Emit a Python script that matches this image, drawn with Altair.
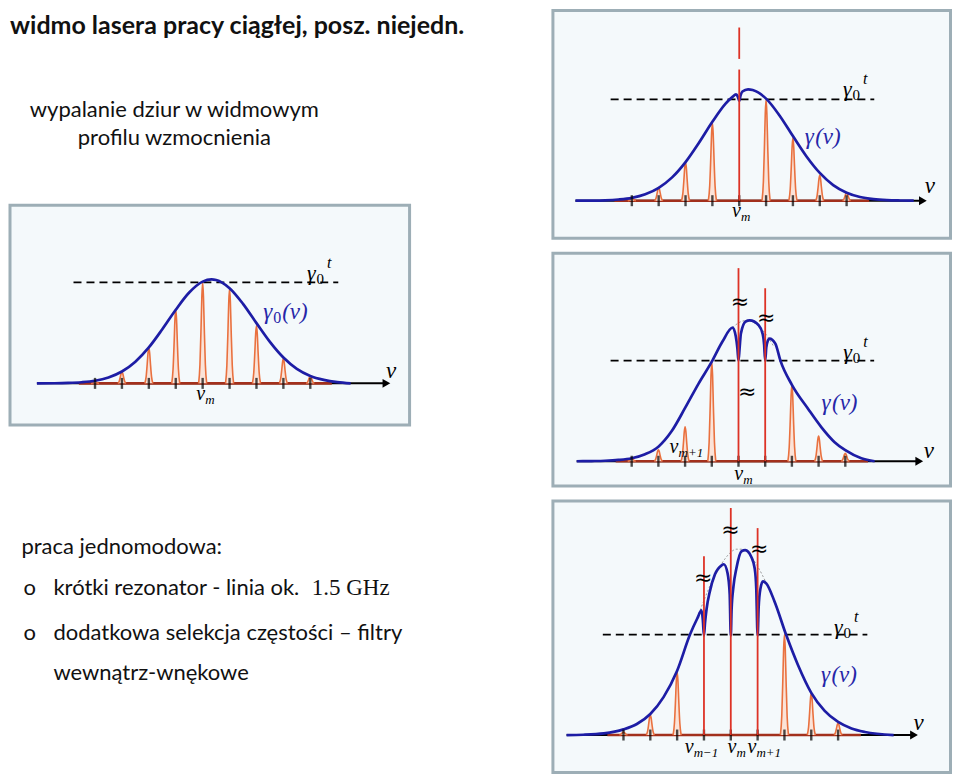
import altair as alt
import pandas as pd

# ---------------- values ----------------
# frequency in units of the mode spacing (nu_m = 0), gain in units of the threshold gamma_0^t
MODES = [-4, -3, -2, -1, 0, 1, 2, 3, 4]

# panel A: unsaturated profile gamma_0(nu)
A_CURVE_X = [-6.16, -5.5, -5.0, -4.5, -4.0, -3.5, -3.0, -2.5, -2.0, -1.5, -1.0, -0.5, 0.0, 0.33, 0.5,
             1.0, 1.5, 2.0, 2.5, 3.0, 3.5, 4.0, 4.5, 5.0, 5.5]
A_CURVE_Y = [0.0, 0.001, 0.004, 0.011, 0.026, 0.059, 0.118, 0.215, 0.356, 0.536, 0.729, 0.900, 1.008, 1.030, 1.024,
             0.943, 0.788, 0.597, 0.411, 0.256, 0.144, 0.074, 0.035, 0.012, 0.0]
A_PEAK_X = [-4, -3, -2, -1, 0, 1, 2, 3, 4]
A_PEAK_H = [0.02, 0.115, 0.353, 0.735, 1.0, 0.94, 0.57, 0.245, 0.07]

# panel B: one hole at nu_m
B_CURVE_X = [-6.1, -5.5, -5.0, -4.5, -4.0, -3.5, -3.0, -2.5, -2.0, -1.5, -1.0, -0.5, -0.25, -0.12, -0.05, 0.0,
             0.05, 0.12, 0.33, 0.5, 1.0, 1.5, 2.0, 2.5, 3.0, 3.5, 4.0, 4.5, 5.0, 5.5, 6.0, 6.5]
B_CURVE_Y = [0.0, 0.001, 0.004, 0.012, 0.028, 0.063, 0.127, 0.230, 0.381, 0.572, 0.779, 0.961, 1.025, 1.050, 1.025, 0.985,
             1.040, 1.078, 1.100, 1.093, 1.008, 0.842, 0.638, 0.439, 0.274, 0.154, 0.079, 0.037, 0.016, 0.006, 0.002, 0.0]
B_PEAK_X = [-4, -3, -2, -1, 1, 2, 3, 4]
B_PEAK_H = [0.03, 0.13, 0.38, 0.77, 1.0, 0.62, 0.25, 0.08]
B_LASER_X = [0, 0]
B_LASER_LO = [0.0, 1.40]
B_LASER_HI = [1.295, 1.71]

# panel C: two holes
C_CURVE_X = [-6.06, -5.5, -5.0, -4.5, -4.0, -3.5, -3.0, -2.5, -2.0, -1.5, -1.0, -0.6, -0.22, -0.1, -0.04, 0.0,
             0.04, 0.09, 0.27, 0.42, 0.76, 0.91, 0.96, 1.0, 1.04, 1.1, 1.16, 1.38, 1.57, 2.0, 2.61, 3.1, 3.6,
             4.0, 4.6, 5.1]
C_CURVE_Y = [0.0, 0.002, 0.005, 0.013, 0.03, 0.07, 0.145, 0.30, 0.53, 0.77, 0.99, 1.19, 1.33, 1.24, 1.12, 1.0,
             1.12, 1.27, 1.39, 1.40, 1.35, 1.26, 1.16, 1.0, 1.13, 1.20, 1.22, 1.17, 1.0, 0.76, 0.52, 0.34, 0.19,
             0.11, 0.03, 0.0]
C_PEAK_X = [-4, -3, -2, -1, 2, 3, 4]
C_PEAK_H = [0.03, 0.115, 0.343, 0.99, 0.76, 0.25, 0.08]
C_LASER_X = [0, 1]
C_LASER_LO = [0.0, 0.0]
C_LASER_HI = [1.92, 1.72]
C_REF_X = [-0.5, -0.3, -0.1, 0.1, 0.3, 0.5, 0.7, 0.9, 1.1, 1.3]
C_REF_Y = [1.235, 1.305, 1.357, 1.389, 1.40, 1.389, 1.357, 1.305, 1.235, 1.15]
C_BREAK_X = [0.05, 1.04, 0.33]
C_BREAK_Y = [1.58, 1.42, 0.69]

# panel D: three holes
D_CURVE_X = [-6.12, -5.5, -4.73, -4.0, -3.5, -3.0, -2.5, -2.0, -1.52, -1.25, -1.09, -1.04, -1.0, -0.96, -0.9,
             -0.78, -0.59, -0.34, -0.26, -0.12, -0.04, 0.0, 0.03, 0.1, 0.21, 0.4, 0.54, 0.77, 0.89, 0.95, 1.0,
             1.04, 1.1, 1.2, 1.32, 1.63, 2.06, 2.5, 3.0, 3.5, 4.0, 4.5, 5.0, 6.07]
D_CURVE_Y = [0.0, 0.003, 0.016, 0.056, 0.11, 0.21, 0.38, 0.64, 1.0, 1.16, 1.24, 1.14, 0.99, 1.12, 1.26,
             1.43, 1.60, 1.69, 1.70, 1.61, 1.40, 0.99, 1.25, 1.48, 1.66, 1.83, 1.84, 1.77, 1.66, 1.46, 0.99,
             1.28, 1.45, 1.53, 1.51, 1.33, 1.0, 0.70, 0.42, 0.24, 0.13, 0.065, 0.03, 0.0]
D_PEAK_X = [-4, -3, -2, 2, 3, 4]
D_PEAK_H = [0.03, 0.2, 0.63, 1.0, 0.42, 0.12]
D_LASER_X = [-1, 0, 1]
D_LASER_LO = [0.0, 0.0, 0.0]
D_LASER_HI = [1.78, 2.26, 2.06]
D_REF_X = [-1.3, -1.0, -0.8, -0.6, -0.4, -0.2, 0.0, 0.2, 0.4, 0.6, 0.8, 1.0, 1.2, 1.4]
D_REF_Y = [1.13, 1.34, 1.47, 1.58, 1.68, 1.76, 1.82, 1.85, 1.85, 1.82, 1.76, 1.68, 1.58, 1.47]
D_BREAK_X = [-1.03, -0.01, 1.06]
D_BREAK_Y = [1.56, 2.04, 1.85]

TITLE = "widmo lasera pracy ciągłej, posz. niejedn."
SUBTITLE = ["wypalanie dziur w widmowym", "profilu wzmocnienia"]
HEAD = "praca jednomodowa:"
BULLET1 = "krótki rezonator - linia ok."
BULLET1_MATH = "1.5 GHz"
BULLET2 = "dodatkowa selekcja częstości – filtry"
BULLET2_CONT = "wewnątrz-wnękowe"

# ---------------- styling ----------------
PANEL_BG = "#F4F9FB"
PANEL_EDGE = "#9DAEB6"
CURVE_BLUE = "#1D1DA5"
LABEL_BLUE = "#2626A8"
LASER_RED = "#DD3326"
PEAK_ORANGE = "#E9713F"
PEAK_FILL = "#FBE3D8"
BASE_RED = "#A2301C"
MATH = "Liberation Serif"
SANS = "Lato"
ONE = pd.DataFrame({"k": [0]})

PEAK_DX = [-0.15, -0.1, -0.06, -0.03, 0.0, 0.03, 0.06, 0.1, 0.15]
PEAK_F = [0.0, 0.19, 0.55, 0.86, 1.0, 0.86, 0.55, 0.19, 0.0]


def piece(t, x, y, dx=0, dy=0, size=22, style="italic", color="black", align="left"):
    return dict(t=t, x=x, y=y, dx=dx, dy=dy, size=size, style=style, color=color, align=align)


def gamma_t(x, y):
    return [piece("γ", x, y), piece("0", x, y, dx=9.5, dy=4, size=15, style="normal"),
            piece("t", x, y, dx=20, dy=-12, size=16)]


def gamma_nu(x, y, zero=False):
    out = [piece("γ", x, y, size=23, color=LABEL_BLUE)]
    if zero:
        out.append(piece("0", x, y, dx=10, dy=4, size=16, style="normal", color=LABEL_BLUE))
    out.append(piece("(ν)", x, y, dx=19 if zero else 10.5, size=23, color=LABEL_BLUE))
    return out


def nu_sub(x, y, sub):
    return [piece("ν", x, y, size=20), piece(sub, x, y, dx=9, dy=4, size=13)]


def nu_axis(x, y):
    return [piece("ν", x, y, size=23, align="center")]


def make_panel(p):
    xs = alt.Scale(domain=p["xdom"], nice=False, zero=False)
    ys = alt.Scale(domain=p["ydom"], nice=False, zero=False)

    def X(f):
        return alt.X(f, type="quantitative", scale=xs, axis=None)

    def Y(f, **kw):
        return alt.Y(f, type="quantitative", scale=ys, axis=None, **kw)

    def XD(v):
        return alt.XDatum(v, type="quantitative", scale=xs)

    def YD(v):
        return alt.YDatum(v, type="quantitative", scale=ys)

    layers = []
    layers.append(alt.Chart(ONE).mark_rule(color="black", strokeWidth=1.7, strokeDash=[8, 5]).encode(
        x=XD(p["dash"][0]), x2=alt.datum(p["dash"][1]), y=YD(1.0)))
    if p.get("ref_x"):
        rdf = pd.DataFrame({"x": p["ref_x"], "y": p["ref_y"]})
        layers.append(alt.Chart(rdf).mark_line(color="#8f8f8f", strokeWidth=0.9, strokeDash=[2, 2],
                                               interpolate="monotone").encode(x=X("x"), y=Y("y")))
    layers.append(alt.Chart(ONE).mark_rule(color="black", strokeWidth=2).encode(
        x=XD(p["axis"][0]), x2=alt.datum(p["axis"][1] - 0.2), y=YD(0)))
    layers.append(alt.Chart(ONE).mark_rule(color=BASE_RED, strokeWidth=2.6).encode(
        x=XD(p["base"][0]), x2=alt.datum(p["base"][1]), y=YD(0)))

    rows = []
    for m, h in zip(p["peak_x"], p["peak_h"]):
        for dx, f in zip(PEAK_DX, PEAK_F):
            rows.append({"m": m, "x": m + dx, "y": h * f})
    pk = pd.DataFrame(rows)
    layers.append(alt.Chart(pk).mark_area(color=PEAK_FILL, interpolate="monotone").encode(
        x=X("x"), y=Y("y", stack=None), detail="m:N"))
    layers.append(alt.Chart(pk).mark_line(color=PEAK_ORANGE, strokeWidth=1.6, interpolate="monotone").encode(
        x=X("x"), y=Y("y"), detail="m:N"))

    cv = pd.DataFrame({"x": p["curve_x"], "y": p["curve_y"]})
    layers.append(alt.Chart(cv).mark_line(color=CURVE_BLUE, strokeWidth=2.7, interpolate="monotone").encode(
        x=X("x"), y=Y("y")))

    tk = pd.DataFrame({"x": MODES})
    layers.append(alt.Chart(tk).mark_tick(orient="vertical", color="black", size=11, thickness=2.4).encode(
        x=X("x"), y=YD(0)))

    if p.get("laser_x"):
        ls = pd.DataFrame({"x": p["laser_x"], "lo": p["laser_lo"], "hi": p["laser_hi"]})
        layers.append(alt.Chart(ls).mark_rule(color=LASER_RED, strokeWidth=1.8).encode(
            x=X("x"), y=Y("lo"), y2="hi"))

    if p.get("break_x"):
        bk = pd.DataFrame({"x": p["break_x"], "y": p["break_y"]})
        layers.append(alt.Chart(bk).mark_text(text="≈", font="DejaVu Sans", fontSize=22, color="black",
                                              baseline="middle", align="center").encode(x=X("x"), y=Y("y")))

    for lb in p["labels"]:
        layers.append(alt.Chart(ONE).mark_text(
            text=lb["t"], dx=lb["dx"], dy=lb["dy"], fontSize=lb["size"], fontStyle=lb["style"], font=MATH,
            color=lb["color"], align=lb["align"], baseline="alphabetic").encode(x=XD(lb["x"]), y=YD(lb["y"])))

    layers.append(alt.Chart(ONE).mark_point(shape="triangle-right", filled=True, size=80, color="black",
                                            opacity=1).encode(x=XD(p["axis"][1] - 0.17), y=YD(0)))

    return alt.layer(*layers).properties(
        width=p["w"], height=p["h"],
        view=alt.ViewBackground(fill=PANEL_BG, stroke=PANEL_EDGE, strokeWidth=3))


panel_a = make_panel(dict(
    xdom=[-7.16, 7.69], ydom=[-0.412, 1.765], w=400, h=220,
    axis=[-6.16, 7.0], base=[-4.6, 4.8], dash=[-4.8, 5.04],
    curve_x=A_CURVE_X, curve_y=A_CURVE_Y, peak_x=A_PEAK_X, peak_h=A_PEAK_H,
    labels=gamma_t(3.88, 1.02) + gamma_nu(2.25, 0.64, zero=True) + nu_axis(7.0, 0.05)
    + nu_sub(-0.24, -0.167, "m")))

panel_b = make_panel(dict(
    xdom=[-6.94, 7.87], ydom=[-0.370, 1.879], w=398, h=228,
    axis=[-6.1, 7.01], base=[-4.65, 4.84], dash=[-4.79, 5.03],
    curve_x=B_CURVE_X, curve_y=B_CURVE_Y, peak_x=B_PEAK_X, peak_h=B_PEAK_H,
    laser_x=B_LASER_X, laser_lo=B_LASER_LO, laser_hi=B_LASER_HI,
    labels=gamma_t(3.87, 1.03) + gamma_nu(2.44, 0.555) + nu_axis(7.1, 0.08) + nu_sub(-0.27, -0.165, "m")))

panel_c = make_panel(dict(
    xdom=[-6.95, 7.94], ydom=[-0.245, 2.069], w=398, h=233,
    axis=[-6.06, 6.94], base=[-4.6, 4.85], dash=[-4.79, 5.08],
    curve_x=C_CURVE_X, curve_y=C_CURVE_Y, peak_x=C_PEAK_X, peak_h=C_PEAK_H,
    laser_x=C_LASER_X, laser_lo=C_LASER_LO, laser_hi=C_LASER_HI,
    ref_x=C_REF_X, ref_y=C_REF_Y, break_x=C_BREAK_X, break_y=C_BREAK_Y,
    labels=gamma_t(3.92, 1.02) + gamma_nu(3.11, 0.51) + nu_axis(7.13, 0.03)
    + nu_sub(-0.16, -0.186, "m") + nu_sub(-2.58, 0.08, "m+1")))

panel_d = make_panel(dict(
    xdom=[-6.63, 8.19], ydom=[-0.374, 2.331], w=398, h=272,
    axis=[-6.12, 7.0], base=[-4.6, 4.85], dash=[-4.77, 5.09],
    curve_x=D_CURVE_X, curve_y=D_CURVE_Y, peak_x=D_PEAK_X, peak_h=D_PEAK_H,
    laser_x=D_LASER_X, laser_lo=D_LASER_LO, laser_hi=D_LASER_HI,
    ref_x=D_REF_X, ref_y=D_REF_Y, break_x=D_BREAK_X, break_y=D_BREAK_Y,
    labels=gamma_t(3.85, 1.01) + gamma_nu(3.36, 0.53) + nu_axis(7.0, 0.05)
    + nu_sub(-1.72, -0.18, "m−1") + nu_sub(-0.12, -0.18, "m") + nu_sub(0.62, -0.18, "m+1")))


def text_px(t, x, y, size=22, weight="normal", font=SANS, align="left"):
    return alt.Chart(ONE).mark_text(text=t, font=font, fontSize=size, fontWeight=weight, align=align,
                                    baseline="alphabetic", color="#111111").encode(
        x=alt.value(x), y=alt.value(y))


NOFRAME = alt.ViewBackground(stroke="transparent", strokeWidth=0)

top_text = alt.layer(
    text_px(TITLE, 0, 24, size=25, weight="bold"),
    text_px(SUBTITLE[0], 164.5, 107, align="center"),
    text_px(SUBTITLE[1], 164.5, 135, align="center"),
).properties(width=470, height=195, view=NOFRAME)

bottom_text = alt.layer(
    text_px(HEAD, 11.5, 129),
    text_px("o", 13.5, 170),
    text_px(BULLET1, 43.5, 170),
    text_px(BULLET1_MATH, 380, 170, size=23, font=MATH, align="right"),
    text_px("o", 13.5, 215),
    text_px(BULLET2, 43.5, 215),
    text_px(BULLET2_CONT, 43.5, 255),
).properties(width=470, height=348, view=NOFRAME)

left = alt.vconcat(top_text, panel_a, bottom_text, spacing=0, bounds="flush")
right = alt.vconcat(panel_b, panel_c, panel_d, spacing=15, bounds="flush")

chart = alt.hconcat(left, right, spacing=71.5, padding=0).configure(
    background="white").configure_axis(disable=True)

chart.save("out.html", embed_options={"renderer": "svg", "actions": False})
